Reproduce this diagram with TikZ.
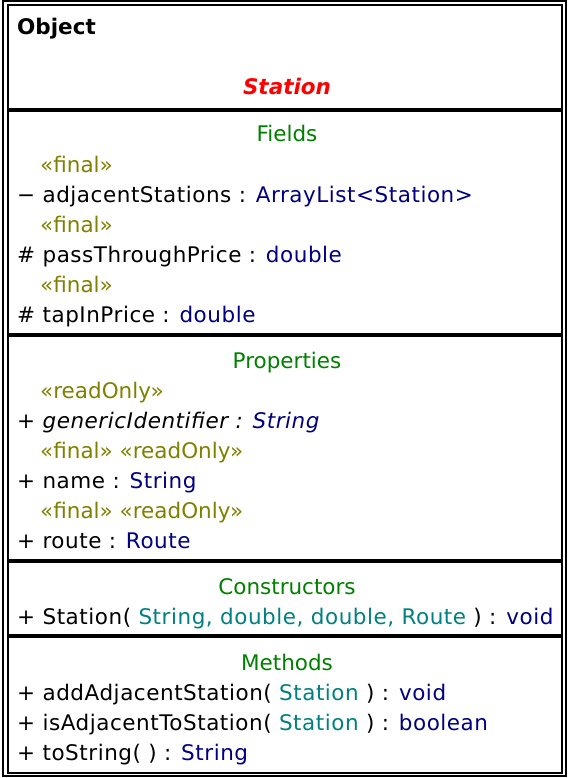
\documentclass[tikz,border=0pt]{standalone}
\usepackage{fontspec}
\setmainfont{DejaVu Sans}
\usepackage{xcolor}
\usetikzlibrary{positioning}
\definecolor{sect}{RGB}{0,128,0}
\definecolor{stereo}{RGB}{128,128,0}
\definecolor{typ}{RGB}{0,0,128}
\definecolor{ptyp}{RGB}{0,128,128}

\begin{document}
\begin{tikzpicture}[x=1pt,y=-1pt,font=\fontsize{21.5}{24}\selectfont]
                \tikzset{row/.style={anchor=base west, inner sep=0pt, font=\fontsize{21.5}{24}\selectfont\addfontfeatures{LetterSpace=2.5}},
                  stereo/.style={anchor=base west, inner sep=0pt, text=stereo},
                  head/.style={anchor=base, inner sep=0pt, text=sect},
                  sep/.style={line width=4pt}, frame/.style={line width=2pt}}
                \useasboundingbox (0,0) rectangle (570,778);
                \draw[frame] (2.5,1.5) rectangle (566,776);
                \draw[frame] (8,5.5) rectangle (562,772.5);
                \node[anchor=base west, inner sep=0pt, font=\fontsize{21.5}{24}\selectfont\bfseries] (obj) at (17,35) {Object};
                \node[anchor=base, inner sep=0pt, text=red, font=\fontsize{21.5}{24}\selectfont\bfseries\itshape] (name) at (287,95) {Station};
                \draw[sep] (8,110) -- (562,110);
                % fields
                \node[head] (fields) at (287,142) {Fields};
                \node[stereo] (f1s) at (40,172) {«final»};
                \node[row] (f1) at (17,202) {− adjacentStations : \textcolor{typ}{ArrayList<Station>}};
                \node[stereo] (f2s) at (40,232) {«final»};
                \node[row] (f2) at (17,262) {\# passThroughPrice : \textcolor{typ}{double}};
                \node[stereo] (f3s) at (40,292) {«final»};
                \node[row] (f3) at (17,322) {\# tapInPrice : \textcolor{typ}{double}};
                \draw[sep] (8,335) -- (562,335);
                % properties
                \node[head] (props) at (287,368) {Properties};
                \node[stereo] (p1s) at (40,398) {«readOnly»};
                \node[row] (p1) at (17,428) {+ \textit{genericIdentifier : \textcolor{typ}{String}}};
                \node[stereo] (p2s) at (40,458) {«final» «readOnly»};
                \node[row] (p2) at (17,488) {+ name : \textcolor{typ}{String}};
                \node[stereo] (p3s) at (40,518) {«final» «readOnly»};
                \node[row] (p3) at (17,548) {+ route : \textcolor{typ}{Route}};
                \draw[sep] (8,560.5) -- (562,560.5);
                % constructors
                \node[head] (ctors) at (287,594) {Constructors};
                \node[row] (c1) at (17,624) {+ Station( \textcolor{ptyp}{String, double, double, Route} ) : \textcolor{typ}{void}};
                \draw[sep] (8,635.5) -- (562,635.5);
                % methods
                \node[head] (meths) at (287,670) {Methods};
                \node[row] (m1) at (17,700) {+ addAdjacentStation( \textcolor{ptyp}{Station} ) : \textcolor{typ}{void}};
                \node[row] (m2) at (17,730) {+ isAdjacentToStation( \textcolor{ptyp}{Station} ) : \textcolor{typ}{boolean}};
                \node[row] (m3) at (17,760) {+ toString( ) : \textcolor{typ}{String}};
            \end{tikzpicture}
\end{document}
